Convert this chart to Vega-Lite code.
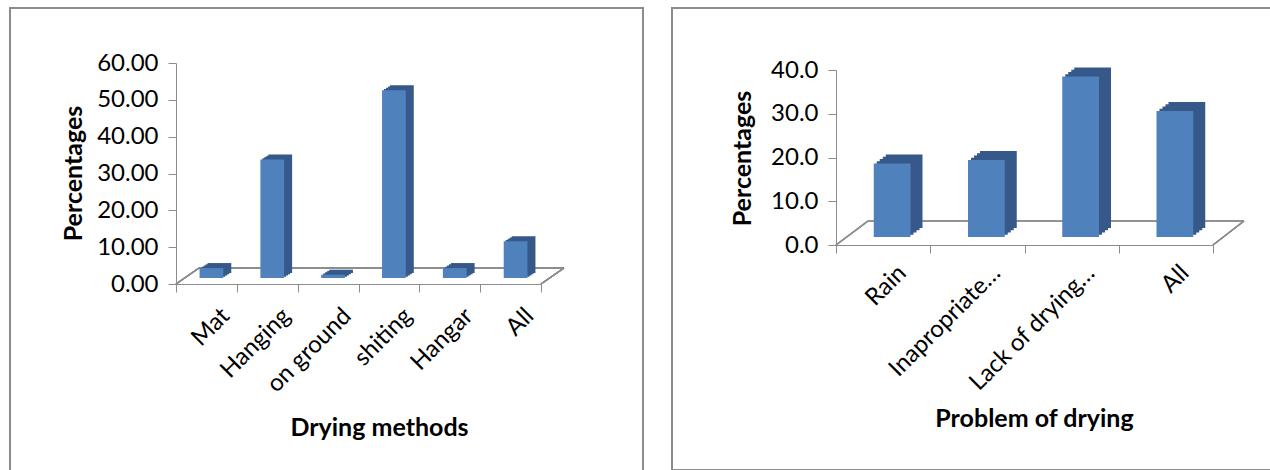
{
  "$schema": "https://vega.github.io/schema/vega-lite/v6.json",
  "padding": {"left": 0, "top": 7, "right": 0, "bottom": 0},
  "spacing": 29,
  "bounds": "flush",
  "config": {
    "font": "Lato",
    "view": {"stroke": "#8c8c8c", "strokeWidth": 2},
    "axis": {"domainColor": "#8c8c8c", "tickColor": "#8c8c8c", "labelColor": "#000000", "titleColor": "#000000", "grid": false, "labelFont": "Lato", "titleFont": "Lato"}
  },
  "hconcat": [
    {
      "width": 633,
      "height": 470,
      "data": {"values": [
        {"method": "Mat", "pct": 2.7},
        {"method": "Hanging", "pct": 32.2},
        {"method": "on ground", "pct": 0.9},
        {"method": "shiting", "pct": 51.0},
        {"method": "Hangar", "pct": 2.7},
        {"method": "All", "pct": 10.0}
      ]},
      "layer": [
        {
          "mark": {"type": "rule", "color": "#8c8c8c", "strokeWidth": 1.2, "xOffset": 23, "x2Offset": 23, "yOffset": -16},
          "encoding": {
            "x": {"datum": "Mat", "bandPosition": 0, "type": "nominal"},
            "x2": {"datum": "All", "bandPosition": 1},
            "y": {"datum": 0, "type": "quantitative"}
          }
        },
        {
          "mark": {"type": "rule", "color": "#8c8c8c", "strokeWidth": 1.2, "x2Offset": 23, "y2Offset": -16},
          "encoding": {
            "x": {"datum": "Mat", "bandPosition": 0, "type": "nominal"},
            "x2": {"datum": "Mat", "bandPosition": 0},
            "y": {"datum": 0, "type": "quantitative"},
            "y2": {"datum": 0}
          }
        },
        {
          "mark": {"type": "rule", "color": "#8c8c8c", "strokeWidth": 1.2, "x2Offset": 23, "y2Offset": -16},
          "encoding": {
            "x": {"datum": "All", "bandPosition": 1, "type": "nominal"},
            "x2": {"datum": "All", "bandPosition": 1},
            "y": {"datum": 0, "type": "quantitative"},
            "y2": {"datum": 0}
          }
        },
        {
          "mark": {"type": "bar", "color": "#36598a", "width": {"band": 0.39}, "xOffset": 13, "x2Offset": 13, "yOffset": -11, "y2Offset": -11},
          "encoding": {"x": {"field": "method", "type": "nominal", "sort": null}, "y": {"field": "pct", "type": "quantitative"}}
        },
        {
          "mark": {"type": "bar", "color": "#36598a", "width": {"band": 0.39}, "xOffset": 11, "x2Offset": 11, "yOffset": -9.75, "y2Offset": -9.75},
          "encoding": {"x": {"field": "method", "type": "nominal", "sort": null}, "y": {"field": "pct", "type": "quantitative"}}
        },
        {
          "mark": {"type": "bar", "color": "#36598a", "width": {"band": 0.39}, "xOffset": 9, "x2Offset": 9, "yOffset": -8.5, "y2Offset": -8.5},
          "encoding": {"x": {"field": "method", "type": "nominal", "sort": null}, "y": {"field": "pct", "type": "quantitative"}}
        },
        {
          "mark": {"type": "bar", "color": "#36598a", "width": {"band": 0.39}, "xOffset": 7, "x2Offset": 7, "yOffset": -7.25, "y2Offset": -7.25},
          "encoding": {"x": {"field": "method", "type": "nominal", "sort": null}, "y": {"field": "pct", "type": "quantitative"}}
        },
        {
          "mark": {"type": "bar", "color": "#4f81bd", "width": {"band": 0.39}, "xOffset": 5, "x2Offset": 5, "yOffset": -6, "y2Offset": -6},
          "encoding": {
            "x": {
              "field": "method", "type": "nominal", "sort": null,
              "scale": {"domain": ["Mat", "Hanging", "on ground", "shiting", "Hangar", "All"], "range": [166, 531], "paddingInner": 0, "paddingOuter": 0},
              "axis": {
                "offset": -194, "labelAngle": -45, "tickBand": "extent", "tickSize": 8, "labelFontSize": 24, "labelPadding": 20, "labelOffset": 19,
                "title": "Drying methods", "titleFontSize": 25, "titleFontWeight": "bold", "titleX": 369, "titleY": 151, "titleBaseline": "alphabetic", "titleAnchor": null, "titleAlign": "center"
              }
            },
            "y": {
              "field": "pct", "type": "quantitative",
              "scale": {"domain": [0, 60], "range": [276, 55], "nice": false, "zero": true},
              "axis": {
                "offset": -166, "values": [0, 10, 20, 30, 40, 50, 60], "format": ".2f", "tickSize": 8, "labelFontSize": 24, "labelPadding": 10,
                "title": "Percentages", "titleFontSize": 25, "titleFontWeight": "bold", "titleAngle": -90, "titleX": -103, "titleY": 165, "titleBaseline": "middle", "titleAlign": "center", "titleAnchor": null
              }
            }
          }
        }
      ]
    },
    {
      "width": 610,
      "height": 462,
      "data": {"values": [
        {"problem": "Rain", "pct": 16.8},
        {"problem": "Inapropriate…", "pct": 17.6},
        {"problem": "Lack of drying…", "pct": 36.7},
        {"problem": "All", "pct": 28.8}
      ]},
      "layer": [
        {
          "mark": {"type": "rule", "color": "#8c8c8c", "strokeWidth": 1.2, "xOffset": 32, "x2Offset": 31, "yOffset": -24},
          "encoding": {
            "x": {"datum": "Rain", "bandPosition": 0, "type": "nominal"},
            "x2": {"datum": "All", "bandPosition": 1},
            "y": {"datum": 0, "type": "quantitative"}
          }
        },
        {
          "mark": {"type": "rule", "color": "#8c8c8c", "strokeWidth": 1.2, "x2Offset": 32, "y2Offset": -24},
          "encoding": {
            "x": {"datum": "Rain", "bandPosition": 0, "type": "nominal"},
            "x2": {"datum": "Rain", "bandPosition": 0},
            "y": {"datum": 0, "type": "quantitative"},
            "y2": {"datum": 0}
          }
        },
        {
          "mark": {"type": "rule", "color": "#8c8c8c", "strokeWidth": 1.2, "x2Offset": 31, "y2Offset": -24},
          "encoding": {
            "x": {"datum": "All", "bandPosition": 1, "type": "nominal"},
            "x2": {"datum": "All", "bandPosition": 1},
            "y": {"datum": 0, "type": "quantitative"},
            "y2": {"datum": 0}
          }
        },
        {
          "mark": {"type": "bar", "color": "#36598a", "width": {"band": 0.39}, "xOffset": 21, "x2Offset": 21, "yOffset": -17, "y2Offset": -17},
          "encoding": {"x": {"field": "problem", "type": "nominal", "sort": null}, "y": {"field": "pct", "type": "quantitative"}}
        },
        {
          "mark": {"type": "bar", "color": "#36598a", "width": {"band": 0.39}, "xOffset": 18, "x2Offset": 18, "yOffset": -14.75, "y2Offset": -14.75},
          "encoding": {"x": {"field": "problem", "type": "nominal", "sort": null}, "y": {"field": "pct", "type": "quantitative"}}
        },
        {
          "mark": {"type": "bar", "color": "#36598a", "width": {"band": 0.39}, "xOffset": 15, "x2Offset": 15, "yOffset": -12.5, "y2Offset": -12.5},
          "encoding": {"x": {"field": "problem", "type": "nominal", "sort": null}, "y": {"field": "pct", "type": "quantitative"}}
        },
        {
          "mark": {"type": "bar", "color": "#36598a", "width": {"band": 0.39}, "xOffset": 12, "x2Offset": 12, "yOffset": -10.25, "y2Offset": -10.25},
          "encoding": {"x": {"field": "problem", "type": "nominal", "sort": null}, "y": {"field": "pct", "type": "quantitative"}}
        },
        {
          "mark": {"type": "bar", "color": "#4f81bd", "width": {"band": 0.39}, "xOffset": 9, "x2Offset": 9, "yOffset": -8, "y2Offset": -8},
          "encoding": {
            "x": {
              "field": "problem", "type": "nominal", "sort": null,
              "scale": {"domain": ["Rain", "Inapropriate…", "Lack of drying…", "All"], "range": [164, 541], "paddingInner": 0, "paddingOuter": 0},
              "axis": {
                "offset": -225, "labelAngle": -45, "tickBand": "extent", "tickSize": 8, "labelFontSize": 24, "labelPadding": 16, "labelOffset": 19,
                "title": "Problem of drying", "titleFontSize": 25, "titleFontWeight": "bold", "titleX": 362, "titleY": 181, "titleBaseline": "alphabetic", "titleAnchor": null, "titleAlign": "center"
              }
            },
            "y": {
              "field": "pct", "type": "quantitative",
              "scale": {"domain": [0, 40], "range": [237, 62], "nice": false, "zero": true},
              "axis": {
                "offset": -164, "values": [0, 10, 20, 30, 40], "format": ".1f", "tickSize": 8, "labelFontSize": 24, "labelPadding": 10,
                "title": "Percentages", "titleFontSize": 25, "titleFontWeight": "bold", "titleAngle": -90, "titleX": -94, "titleY": 150, "titleBaseline": "middle", "titleAlign": "center", "titleAnchor": null
              }
            }
          }
        }
      ]
    }
  ]
}
